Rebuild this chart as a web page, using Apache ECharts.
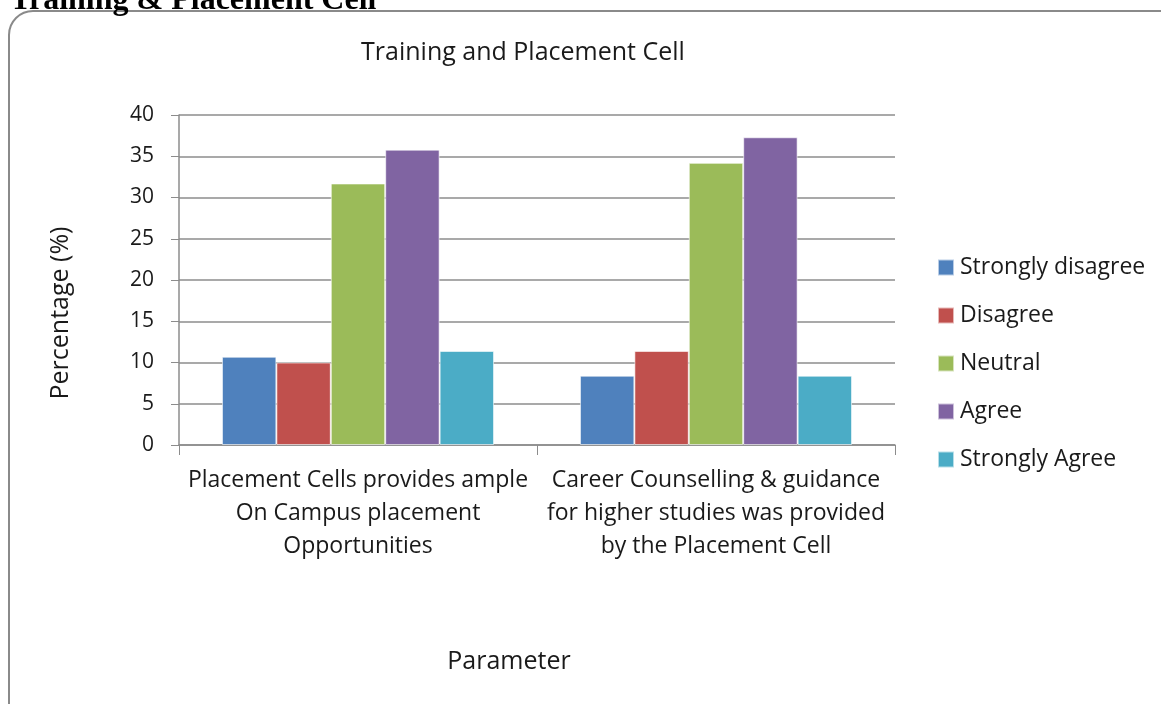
<!DOCTYPE html>
<html>
<head>
  <meta charset="UTF-8">
  <title>Training and Placement Cell</title>
  <script src="https://cdn.jsdelivr.net/npm/echarts@6/dist/echarts.min.js"></script>
</head>
<body style="margin: 0; background-color: #ffffff;">
  <div id="main" style="width: 1161px; height: 704px;"></div>
  <script type="text/javascript">
    // data
    var categories = [
      'Placement Cells provides ample\nOn Campus placement\nOpportunities',
      'Career Counselling & guidance\nfor higher studies was provided\nby the Placement Cell'
    ];
    var seriesNames = ['Strongly disagree', 'Disagree', 'Neutral', 'Agree', 'Strongly Agree'];
    var stronglyDisagree = [10.7, 8.4];
    var disagree = [10.0, 11.4];
    var neutral = [31.7, 34.2];
    var agree = [35.8, 37.3];
    var stronglyAgree = [11.4, 8.4];
    var colors = ['#4f81bd', '#c0504d', '#9bbb59', '#8064a2', '#4bacc6'];

    var font = '"Open Sans", "DejaVu Sans", sans-serif';
    var myChart = echarts.init(document.getElementById('main'));

    var values = [stronglyDisagree, disagree, neutral, agree, stronglyAgree];
    var series = seriesNames.map(function (name, i) {
      return {
        name: name,
        type: 'bar',
        data: values[i],
        barGap: '0%',
        barCategoryGap: '24%',
        itemStyle: {
          color: colors[i],
          borderColor: 'rgba(255,255,255,0.6)',
          borderWidth: 1
        }
      };
    });

    var option = {
      backgroundColor: '#ffffff',
      animation: false,
      color: colors,
      title: {
        text: 'Training and Placement Cell',
        left: 518,
        top: 35,
        textAlign: 'center',
        textStyle: {
          fontFamily: font,
          fontSize: 25,
          fontWeight: 'normal',
          color: '#1a1a1a'
        }
      },
      graphic: [
        {
          type: 'rect',
          shape: { x: 9, y: 11, width: 1180, height: 720, r: 24 },
          style: { fill: 'none', stroke: '#8a8a8a', lineWidth: 2 },
          z: -1
        },
        {
          type: 'text',
          left: 10,
          top: -15,
          style: {
            text: 'Training & Placement Cell',
            font: 'bold 32px "Liberation Serif", serif',
            fill: '#000000'
          }
        }
      ],
      legend: {
        orient: 'vertical',
        left: 932,
        top: 251,
        itemWidth: 16,
        itemHeight: 16,
        itemGap: 25,
        icon: 'rect',
        textStyle: {
          fontFamily: font,
          fontSize: 23,
          color: '#1a1a1a',
          padding: [0, 0, 0, 1]
        }
      },
      grid: {
        left: 179,
        right: 266,
        top: 115,
        bottom: 259
      },
      xAxis: {
        type: 'category',
        data: categories,
        name: 'Parameter',
        nameLocation: 'middle',
        nameGap: 204,
        nameTextStyle: {
          fontFamily: font,
          fontSize: 25,
          color: '#1a1a1a',
          padding: [0, 56, 0, 0]
        },
        axisLine: { lineStyle: { color: '#8c8c8c', width: 1.5 } },
        axisTick: { show: true, length: 10, lineStyle: { color: '#8c8c8c' } },
        axisLabel: {
          fontFamily: font,
          fontSize: 23,
          lineHeight: 33,
          color: '#1a1a1a',
          margin: 19,
          interval: 0
        }
      },
      yAxis: {
        type: 'value',
        min: 0,
        max: 40,
        interval: 5,
        name: 'Percentage (%)',
        nameLocation: 'middle',
        nameGap: 106,
        nameTextStyle: {
          fontFamily: font,
          fontSize: 25,
          color: '#1a1a1a',
          padding: [0, 66, 0, 0]
        },
        axisLine: { show: true, lineStyle: { color: '#8c8c8c', width: 1.5 } },
        axisTick: { show: true, length: 8, lineStyle: { color: '#8c8c8c' } },
        axisLabel: {
          fontFamily: font,
          fontSize: 21,
          color: '#1a1a1a',
          margin: 25
        },
        splitLine: { lineStyle: { color: '#8c8c8c', width: 1.5 } }
      },
      series: series
    };

    myChart.setOption(option);
  </script>
</body>
</html>
